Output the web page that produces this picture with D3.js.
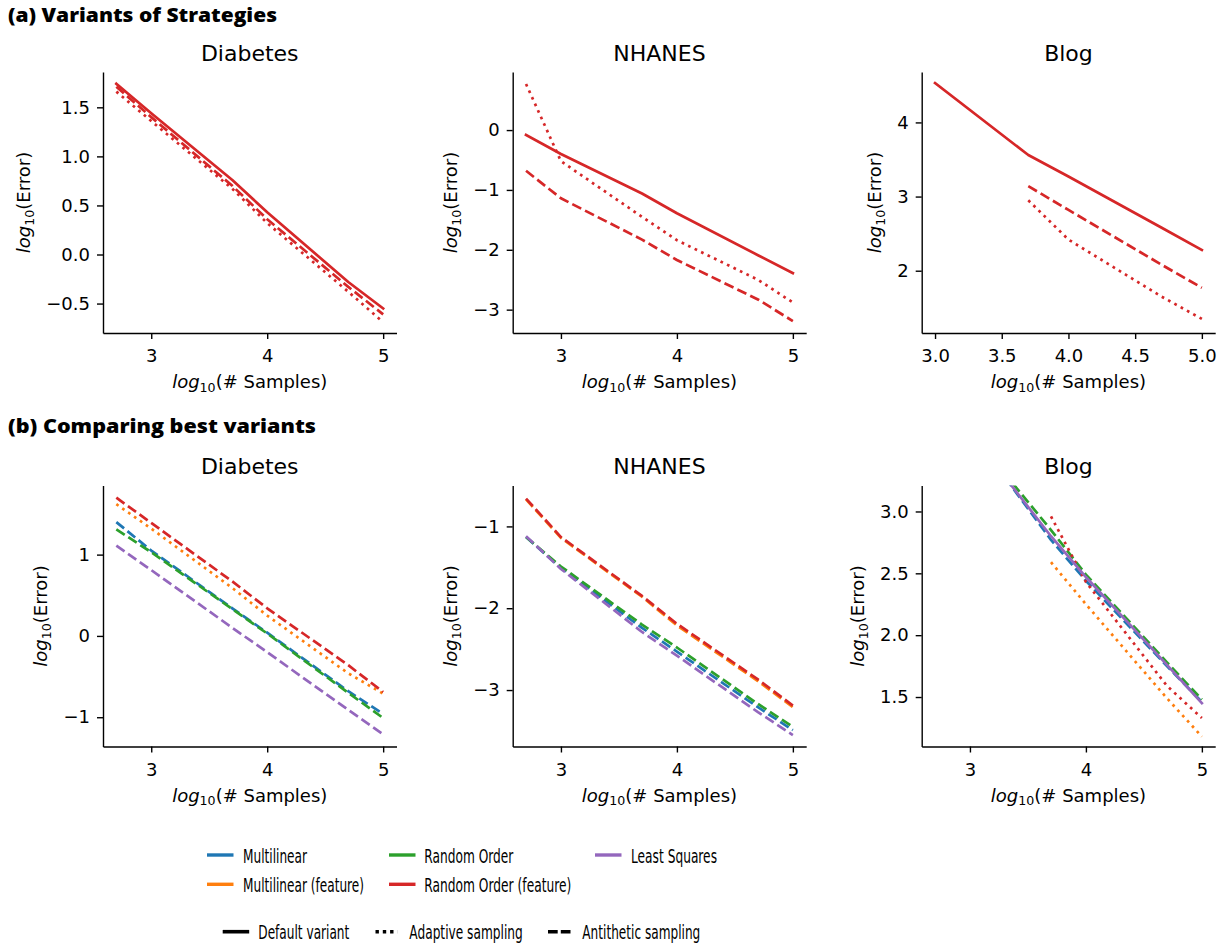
<!DOCTYPE html>
<html><head><meta charset="utf-8">
<script src="https://cdn.jsdelivr.net/npm/d3@7"></script>
<style>body{margin:0;background:#fff} svg{display:block}</style>
</head><body>
<svg id="chart" width="1226" height="945"></svg>
<script>
// ---------------- DATA ----------------
// log10(# samples) grids
const xsFull = [2.699, 3, 3.699, 4, 4.699, 5];
const xsBlog = [3, 3.699, 4, 4.699, 5];
const xsBlogLate = [3.699, 4, 4.699, 5];

// (a) Variants of Strategies — Random Order (feature)
const diabA_default    = [1.74, 1.44, 0.76, 0.43, -0.28, -0.55];
const diabA_antithetic = [1.71, 1.40, 0.70, 0.36, -0.33, -0.61];
const diabA_adaptive   = [1.66, 1.36, 0.67, 0.32, -0.38, -0.69];

const nhanesA_default    = [-0.08, -0.40, -1.06, -1.39, -2.09, -2.39];
const nhanesA_adaptive   = [0.77, -0.52, -1.45, -1.84, -2.50, -2.88];
const nhanesA_antithetic = [-0.68, -1.14, -1.83, -2.17, -2.83, -3.19];

const blogA_default    = [4.53, 3.56, 3.27, 2.58, 2.28];
const blogA_antithetic = [3.14, 2.82, 2.08, 1.77];
const blogA_adaptive   = [2.95, 2.42, 1.65, 1.35];

// (b) Comparing best variants
const diabB_multilinear      = [1.40, 1.05, 0.34, 0.04, -0.68, -0.96];
const diabB_mlFeature        = [1.62, 1.32, 0.59, 0.25, -0.46, -0.71];
const diabB_randomOrder      = [1.31, 1.03, 0.33, 0.03, -0.70, -1.01];
const diabB_roFeature        = [1.70, 1.39, 0.67, 0.34, -0.36, -0.69];
const diabB_leastSquares     = [1.11, 0.81, 0.10, -0.20, -0.91, -1.21];

const nhanesB_multilinear    = [-1.13, -1.51, -2.24, -2.53, -3.21, -3.49];
const nhanesB_mlFeature      = [-0.67, -1.14, -1.86, -2.21, -2.89, -3.21];
const nhanesB_randomOrder    = [-1.13, -1.49, -2.20, -2.48, -3.17, -3.45];
const nhanesB_roFeature      = [-0.66, -1.13, -1.85, -2.19, -2.87, -3.19];
const nhanesB_leastSquares   = [-1.12, -1.52, -2.29, -2.58, -3.27, -3.55];

const blogB_multilinear      = [4.00, 3.66, 2.77, 2.44, 1.75, 1.46];
const blogB_mlFeature        = [2.59, 2.25, 1.49, 1.18];
const blogB_randomOrder      = [4.05, 3.65, 2.85, 2.49, 1.78, 1.48];
const blogB_roFeature        = [2.96, 2.43, 1.59, 1.33];
const blogB_leastSquares     = [4.02, 3.64, 2.80, 2.47, 1.76, 1.45];

// ticks
const ticksX345 = [3, 4, 5];
const ticksXBlogA = [3.0, 3.5, 4.0, 4.5, 5.0];
const ticksY_diabA = [-0.5, 0.0, 0.5, 1.0, 1.5];
const ticksY_nhanesA = [-3, -2, -1, 0];
const ticksY_blogA = [2, 3, 4];
const ticksY_diabB = [-1, 0, 1];
const ticksY_nhanesB = [-3, -2, -1];
const ticksY_blogB = [1.5, 2.0, 2.5, 3.0];

const datasetNames = ["Diabetes", "NHANES", "Blog"];
const sectionTitles = ["(a) Variants of Strategies", "(b) Comparing best variants"];
const methodNames = ["Multilinear", "Multilinear (feature)", "Random Order", "Random Order (feature)", "Least Squares"];
const styleNames = ["Default variant", "Adaptive sampling", "Antithetic sampling"];

// ---------------- STYLE ----------------
const COLORS = {"Multilinear":"#1f77b4","Multilinear (feature)":"#ff7f0e","Random Order":"#2ca02c","Random Order (feature)":"#d62728","Least Squares":"#9467bd"};
const LW = 2.7;
const DASH = {"default":null, "adaptive":"2.7,4.5", "antithetic":"10,4.3"};
const FONT = "DejaVu Sans";

const panels = [
  {row:0,col:0,title:datasetNames[0],xd:[2.584,5.115],yd:[-0.80,1.86],xt:ticksX345,xf:d3.format("d"),yt:ticksY_diabA,yf:d3.format(".1f"),
   series:[
    {x:xsFull,y:diabA_default,m:"Random Order (feature)",s:"default"},
    {x:xsFull,y:diabA_adaptive,m:"Random Order (feature)",s:"adaptive"},
    {x:xsFull,y:diabA_antithetic,m:"Random Order (feature)",s:"antithetic"}]},
  {row:0,col:1,title:datasetNames[1],xd:[2.584,5.115],yd:[-3.39,0.97],xt:ticksX345,xf:d3.format("d"),yt:ticksY_nhanesA,yf:d3.format("d"),
   series:[
    {x:xsFull,y:nhanesA_default,m:"Random Order (feature)",s:"default"},
    {x:xsFull,y:nhanesA_adaptive,m:"Random Order (feature)",s:"adaptive"},
    {x:xsFull,y:nhanesA_antithetic,m:"Random Order (feature)",s:"antithetic"}]},
  {row:0,col:2,title:datasetNames[2],xd:[2.9,5.1],yd:[1.16,4.68],xt:ticksXBlogA,xf:d3.format(".1f"),yt:ticksY_blogA,yf:d3.format("d"),
   series:[
    {x:xsBlog,y:blogA_default,m:"Random Order (feature)",s:"default"},
    {x:xsBlogLate,y:blogA_adaptive,m:"Random Order (feature)",s:"adaptive"},
    {x:xsBlogLate,y:blogA_antithetic,m:"Random Order (feature)",s:"antithetic"}]},
  {row:1,col:0,title:datasetNames[0],xd:[2.584,5.115],yd:[-1.36,1.85],xt:ticksX345,xf:d3.format("d"),yt:ticksY_diabB,yf:d3.format("d"),
   series:[
    {x:xsFull,y:diabB_multilinear,m:"Multilinear",s:"antithetic"},
    {x:xsFull,y:diabB_mlFeature,m:"Multilinear (feature)",s:"adaptive"},
    {x:xsFull,y:diabB_randomOrder,m:"Random Order",s:"antithetic"},
    {x:xsFull,y:diabB_roFeature,m:"Random Order (feature)",s:"antithetic"},
    {x:xsFull,y:diabB_leastSquares,m:"Least Squares",s:"antithetic"}]},
  {row:1,col:1,title:datasetNames[1],xd:[2.584,5.115],yd:[-3.69,-0.50],xt:ticksX345,xf:d3.format("d"),yt:ticksY_nhanesB,yf:d3.format("d"),
   series:[
    {x:xsFull,y:nhanesB_multilinear,m:"Multilinear",s:"antithetic"},
    {x:xsFull,y:nhanesB_mlFeature,m:"Multilinear (feature)",s:"antithetic"},
    {x:xsFull,y:nhanesB_randomOrder,m:"Random Order",s:"antithetic"},
    {x:xsFull,y:nhanesB_roFeature,m:"Random Order (feature)",s:"antithetic"},
    {x:xsFull,y:nhanesB_leastSquares,m:"Least Squares",s:"antithetic"}]},
  {row:1,col:2,title:datasetNames[2],xd:[2.584,5.115],yd:[1.10,3.21],xt:ticksX345,xf:d3.format("d"),yt:ticksY_blogB,yf:d3.format(".1f"),
   series:[
    {x:xsFull,y:blogB_multilinear,m:"Multilinear",s:"antithetic"},
    {x:xsBlogLate,y:blogB_mlFeature,m:"Multilinear (feature)",s:"adaptive"},
    {x:xsFull,y:blogB_randomOrder,m:"Random Order",s:"antithetic"},
    {x:xsBlogLate,y:blogB_roFeature,m:"Random Order (feature)",s:"adaptive"},
    {x:xsFull,y:blogB_leastSquares,m:"Least Squares",s:"default"}]}
];

// ---------------- LAYOUT ----------------
const COL_LEFT = [103, 512.7, 921.7], PW = 293.5;
const ROW_TOP = [72, 485.5], PH = 261;
const svg = d3.select("#chart");

// section titles
const secY = [22, 433], secW = [269, 308];
sectionTitles.forEach((t,i)=>{
  svg.append("text").attr("x",8).attr("y",secY[i]).text(t)
    .attr("font-family","Open Sans").attr("font-weight",800).attr("font-size",20)
    .attr("textLength",secW[i]).attr("lengthAdjust","spacingAndGlyphs").attr("fill","#000");
});

function axisLabel(g, txt, size){
  g.append("tspan").attr("font-style","italic").text("log");
  g.append("tspan").attr("font-size",size*0.7).attr("dy",size*0.22).text("10");
  g.append("tspan").attr("dy",-size*0.22).text(txt);
}

panels.forEach((p,pi)=>{
  const L = COL_LEFT[p.col], T = ROW_TOP[p.row];
  const x = d3.scaleLinear().domain(p.xd).range([L, L+PW]);
  const y = d3.scaleLinear().domain(p.yd).range([T+PH, T]);
  const g = svg.append("g");
  const cid = "clip"+pi;
  svg.append("clipPath").attr("id",cid).append("rect").attr("x",L).attr("y",T).attr("width",PW).attr("height",PH);

  // lines
  const lg = g.append("g").attr("clip-path",`url(#${cid})`);
  p.series.forEach(s=>{
    const pts = s.x.map((xv,i)=>[xv,s.y[i]]);
    lg.append("path").datum(pts)
      .attr("d", d3.line().x(d=>x(d[0])).y(d=>y(d[1])))
      .attr("fill","none").attr("stroke",COLORS[s.m]).attr("stroke-width",LW)
      .attr("stroke-linejoin","round")
      .attr("stroke-linecap", s.s==="default" ? "square" : "butt")
      .attr("stroke-dasharray", DASH[s.s]);
  });

  // axes
  const xa = g.append("g").attr("transform",`translate(0,${T+PH})`)
    .call(d3.axisBottom(x).tickValues(p.xt).tickFormat(p.xf).tickSize(6).tickSizeOuter(0).tickPadding(7));
  const ya = g.append("g").attr("transform",`translate(${L},0)`)
    .call(d3.axisLeft(y).tickValues(p.yt).tickFormat(p.yf).tickSize(6).tickSizeOuter(0).tickPadding(7));
  [xa,ya].forEach(a=>{
    a.select(".domain").attr("stroke","#000").attr("stroke-width",1.4);
    a.selectAll(".tick line").attr("stroke","#000").attr("stroke-width",1.4);
    a.selectAll(".tick text").attr("font-family",FONT).attr("font-size",18).attr("fill","#000");
  });
  xa.selectAll(".tick text").attr("dy",0).attr("y",29);

  // title
  g.append("text").attr("x",L+PW/2).attr("y",T-11.5).attr("text-anchor","middle")
    .attr("font-family",FONT).attr("font-size",22).attr("fill","#000").text(p.title);

  // x label
  const xl = g.append("text").attr("x",L+PW/2).attr("y",T+PH+55).attr("text-anchor","middle")
    .attr("font-family",FONT).attr("font-size",18).attr("fill","#000");
  axisLabel(xl, "(# Samples)", 18);

  // y label
  let minX = Infinity;
  ya.selectAll(".tick text").each(function(){ const b=this.getBBox(); minX=Math.min(minX, L + b.x); });
  const bx = minX - 16.5;
  const yl = g.append("text").attr("transform",`translate(${bx},${T+PH/2}) rotate(-90)`).attr("text-anchor","middle")
    .attr("font-family",FONT).attr("font-size",18).attr("fill","#000");
  axisLabel(yl, "(Error)", 18);
});

// ---------------- LEGEND ----------------
const legMethods = [
  {name:methodNames[0], lx:207, ty:0, tx:243, tw:64},
  {name:methodNames[1], lx:207, ty:1, tx:243, tw:121},
  {name:methodNames[2], lx:389, ty:0, tx:424.3, tw:89},
  {name:methodNames[3], lx:389, ty:1, tx:424.3, tw:147},
  {name:methodNames[4], lx:595, ty:0, tx:631, tw:86}
];
const legRowLine = [855, 884.3], legRowText = [862.5, 891.5];
const lgd = svg.append("g");
legMethods.forEach(d=>{
  lgd.append("line").attr("x1",d.lx).attr("x2",d.lx+26.5).attr("y1",legRowLine[d.ty]).attr("y2",legRowLine[d.ty])
    .attr("stroke",COLORS[d.name]).attr("stroke-width",3.4);
  lgd.append("text").attr("x",d.tx).attr("y",legRowText[d.ty]).text(d.name)
    .attr("font-family",FONT).attr("font-size",19).attr("fill","#000")
    .attr("textLength",d.tw).attr("lengthAdjust","spacingAndGlyphs");
});
const legStyles = [
  {name:styleNames[0], lx:222.7, lw:26.5, dash:null, tx:258.3, tw:91},
  {name:styleNames[1], lx:375.5, lw:22, dash:"3.4,3.9", tx:409.3, tw:113.5},
  {name:styleNames[2], lx:548, lw:22.5, dash:"9.7,3.1", tx:582.3, tw:118}
];
legStyles.forEach(d=>{
  lgd.append("line").attr("x1",d.lx).attr("x2",d.lx+d.lw).attr("y1",931.7).attr("y2",931.7)
    .attr("stroke","#000").attr("stroke-width",3.6).attr("stroke-dasharray",d.dash);
  lgd.append("text").attr("x",d.tx).attr("y",939.3).text(d.name)
    .attr("font-family",FONT).attr("font-size",19).attr("fill","#000")
    .attr("textLength",d.tw).attr("lengthAdjust","spacingAndGlyphs");
});
</script></body></html>
